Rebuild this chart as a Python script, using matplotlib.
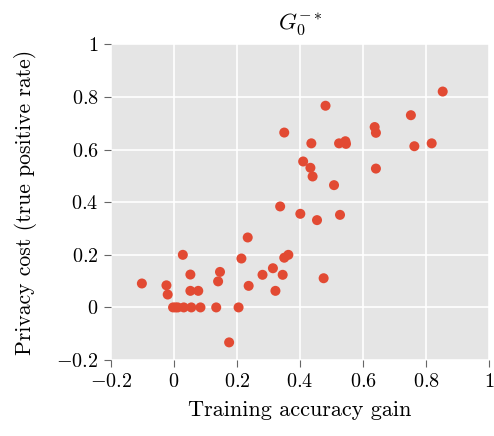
import matplotlib
matplotlib.use("Agg")
import matplotlib.pyplot as plt

# accuracy gain vs true positive rate
gain = [
    -0.102, -0.024, -0.020, 0.028, 0.052, 0.052, 0.077, 0.146, 0.140,
    -0.003, 0.005, 0.012, 0.031, 0.055, 0.084, 0.134, 0.205, 0.175,
    0.234, 0.214, 0.363, 0.350, 0.314, 0.281, 0.345, 0.237, 0.322, 0.475,
    0.337, 0.401, 0.454, 0.527, 0.508,
    0.410, 0.433, 0.440, 0.641, 0.350, 0.436, 0.524, 0.544, 0.546,
    0.637, 0.641, 0.481, 0.752, 0.763, 0.818, 0.853,
]
tpr = [
    0.091, 0.084, 0.049, 0.200, 0.125, 0.063, 0.063, 0.135, 0.099,
    0.0, 0.0, 0.0, 0.0, 0.0, 0.0, 0.0, 0.0, -0.133,
    0.266, 0.186, 0.200, 0.189, 0.149, 0.124, 0.124, 0.082, 0.063, 0.111,
    0.384, 0.356, 0.332, 0.352, 0.465,
    0.555, 0.531, 0.498, 0.528, 0.665, 0.624, 0.624, 0.632, 0.622,
    0.686, 0.664, 0.767, 0.731, 0.613, 0.624, 0.821,
]
ticks = [-0.2, 0, 0.2, 0.4, 0.6, 0.8, 1]
tick_labels = [r"$-0.2$", r"$0$", r"$0.2$", r"$0.4$", r"$0.6$", r"$0.8$", r"$1$"]

plt.rcParams["font.family"] = "serif"
plt.rcParams["font.serif"] = ["cmr10"]
plt.rcParams["mathtext.fontset"] = "cm"
plt.rcParams["axes.formatter.use_mathtext"] = True

fig = plt.figure(figsize=(4.94, 4.36), dpi=100)
ax = fig.add_axes([0.2247, 0.1743, 0.7652, 0.7237])
ax.set_facecolor("#E5E5E5")
ax.set_axisbelow(True)
ax.grid(True, color="white", linewidth=1.2)
for s in ax.spines.values():
    s.set_visible(False)

ax.scatter(gain, tpr, s=52, color="#E24A33", edgecolors="none", zorder=3)

ax.set_xlim(-0.2, 1)
ax.set_ylim(-0.2, 1)
ax.set_xticks(ticks)
ax.set_yticks(ticks)
ax.set_xticklabels(tick_labels)
ax.set_yticklabels(tick_labels)
ax.tick_params(direction="out", length=5, width=0.8, color="#666666",
               labelsize=14.5, pad=4)

ax.set_xlabel("Training accuracy gain", fontsize=16, labelpad=7)
ax.set_ylabel("Privacy cost (true positive rate)", fontsize=15.6, labelpad=14)
ax.set_title(r"$G_0^{-*}$", fontsize=16.5, pad=10)

fig.savefig("out.png", dpi=100)
